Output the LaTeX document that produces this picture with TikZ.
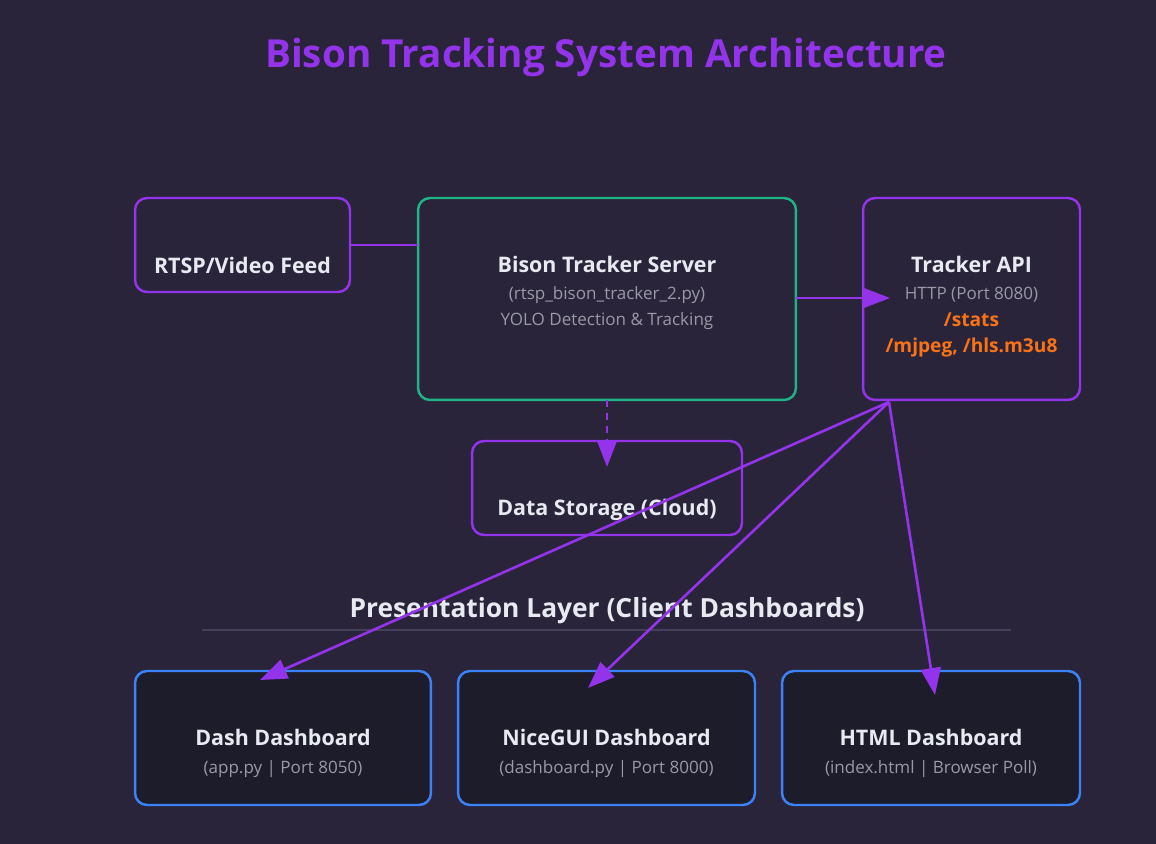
\documentclass[tikz,border=0pt]{standalone}
\usepackage{fontspec}
\setmainfont{Open Sans}
\usetikzlibrary{arrows.meta}
\definecolor{bgcol}{HTML}{29243A}
\definecolor{cardcol}{HTML}{1D1C2B}
\definecolor{purp}{HTML}{9333EA}
\definecolor{greenb}{HTML}{1FB385}
\definecolor{blueb}{HTML}{3B82F6}
\definecolor{orng}{HTML}{F97316}
\definecolor{txt}{HTML}{E8EAF2}
\definecolor{subtxt}{HTML}{9A99A6}
\definecolor{rulecol}{HTML}{45405A}

\begin{document}
\begin{tikzpicture}[x=0.02cm,y=-0.02cm,
	box/.style={draw=purp,line width=1.4pt,rounded corners=0.24cm,minimum width=#1,inner sep=0pt,outer sep=0pt},
	head/.style={anchor=base,text=txt,font=\bfseries\fontsize{12.2}{14}\selectfont},
	small/.style={anchor=base,text=subtxt,font=\fontsize{9.7}{12}\selectfont},
	route/.style={anchor=base,text=orng,font=\bfseries\fontsize{10.9}{13}\selectfont},
	link/.style={purp,line width=1.5pt},
	arr/.style={link,-{Triangle[length=0.54cm,width=0.4cm]}}]
	\fill[bgcol] (0,0) rectangle (1156,844);
	\useasboundingbox (0,0) rectangle (1156,844);

	\node[anchor=base,text=purp,font=\bfseries\fontsize{22}{26}\selectfont] (title) at (606,68) {Bison Tracking System Architecture};

	% top row
	\node[box=4.3cm,minimum height=1.88cm] (rtsp) at (242.5,245) {};
	\node[box=7.56cm,minimum height=4.04cm,draw=greenb] (server) at (607,299) {};
	\node[box=4.34cm,minimum height=4.04cm] (api) at (971.5,299) {};
	\node[box=5.4cm,minimum height=1.88cm] (store) at (607,488) {};

	\node[head] (rtsplbl) at (242.5,274) {RTSP/Video Feed};
	\node[head] (serverlbl) at (607,273) {Bison Tracker Server};
	\node[small] (serverfile) at (607,300) {(rtsp\_bison\_tracker\_2.py)};
	\node[small] (serveryolo) at (607,326) {YOLO Detection \& Tracking};
	\node[head] (apilbl) at (971.5,273) {Tracker API};
	\node[small] (apihttp) at (971.5,300) {HTTP (Port 8080)};
	\node[route] (apistats) at (971.5,327) {/stats};
	\node[route] (apistream) at (971.5,353) {/mjpeg, /hls.m3u8};
	\node[head] (storelbl) at (607,515) {Data Storage (Cloud)};

	% presentation layer
	\node[anchor=base,text=txt,font=\bfseries\fontsize{15}{18}\selectfont] (layer) at (607,617) {Presentation Layer (Client Dashboards)};
	\draw[rulecol,line width=0.6pt] (202,630) -- (1011,630);

	\node[box=5.92cm,minimum height=2.68cm,draw=blueb,fill=cardcol] (dash) at (283,738) {};
	\node[box=5.94cm,minimum height=2.68cm,draw=blueb,fill=cardcol] (nicegui) at (606.5,738) {};
	\node[box=5.96cm,minimum height=2.68cm,draw=blueb,fill=cardcol] (html) at (931,738) {};

	\node[head] (dashlbl) at (283,745) {Dash Dashboard};
	\node[small] (dashsub) at (283,773) {(app.py | Port 8050)};
	\node[head] (niceguilbl) at (606.5,745) {NiceGUI Dashboard};
	\node[small] (niceguisub) at (606.5,773) {(dashboard.py | Port 8000)};
	\node[head] (htmllbl) at (931,745) {HTML Dashboard};
	\node[small] (htmlsub) at (931,773) {(index.html | Browser Poll)};

	% connectors
	\coordinate (apiout) at (889,402);
	\coordinate (dashin) at (260,680);
	\coordinate (niceguiin) at (588,688);
	\coordinate (htmlin) at (935,695);

	\draw[link] (rtsp.east |- 0,245) -- (server.west |- 0,245);
	\draw[arr,shorten >=-0.54cm] (server.east |- 0,298) -- (api.west |- 0,298);
	\draw[arr,dash pattern=on 4pt off 3.4pt,shorten >=-0.52cm] (server.south) -- (store.north);
	\draw[arr] (apiout) -- (dashin);
	\draw[arr] (apiout) -- (niceguiin);
	\draw[arr] (apiout) -- (htmlin);

\end{tikzpicture}
\end{document}
